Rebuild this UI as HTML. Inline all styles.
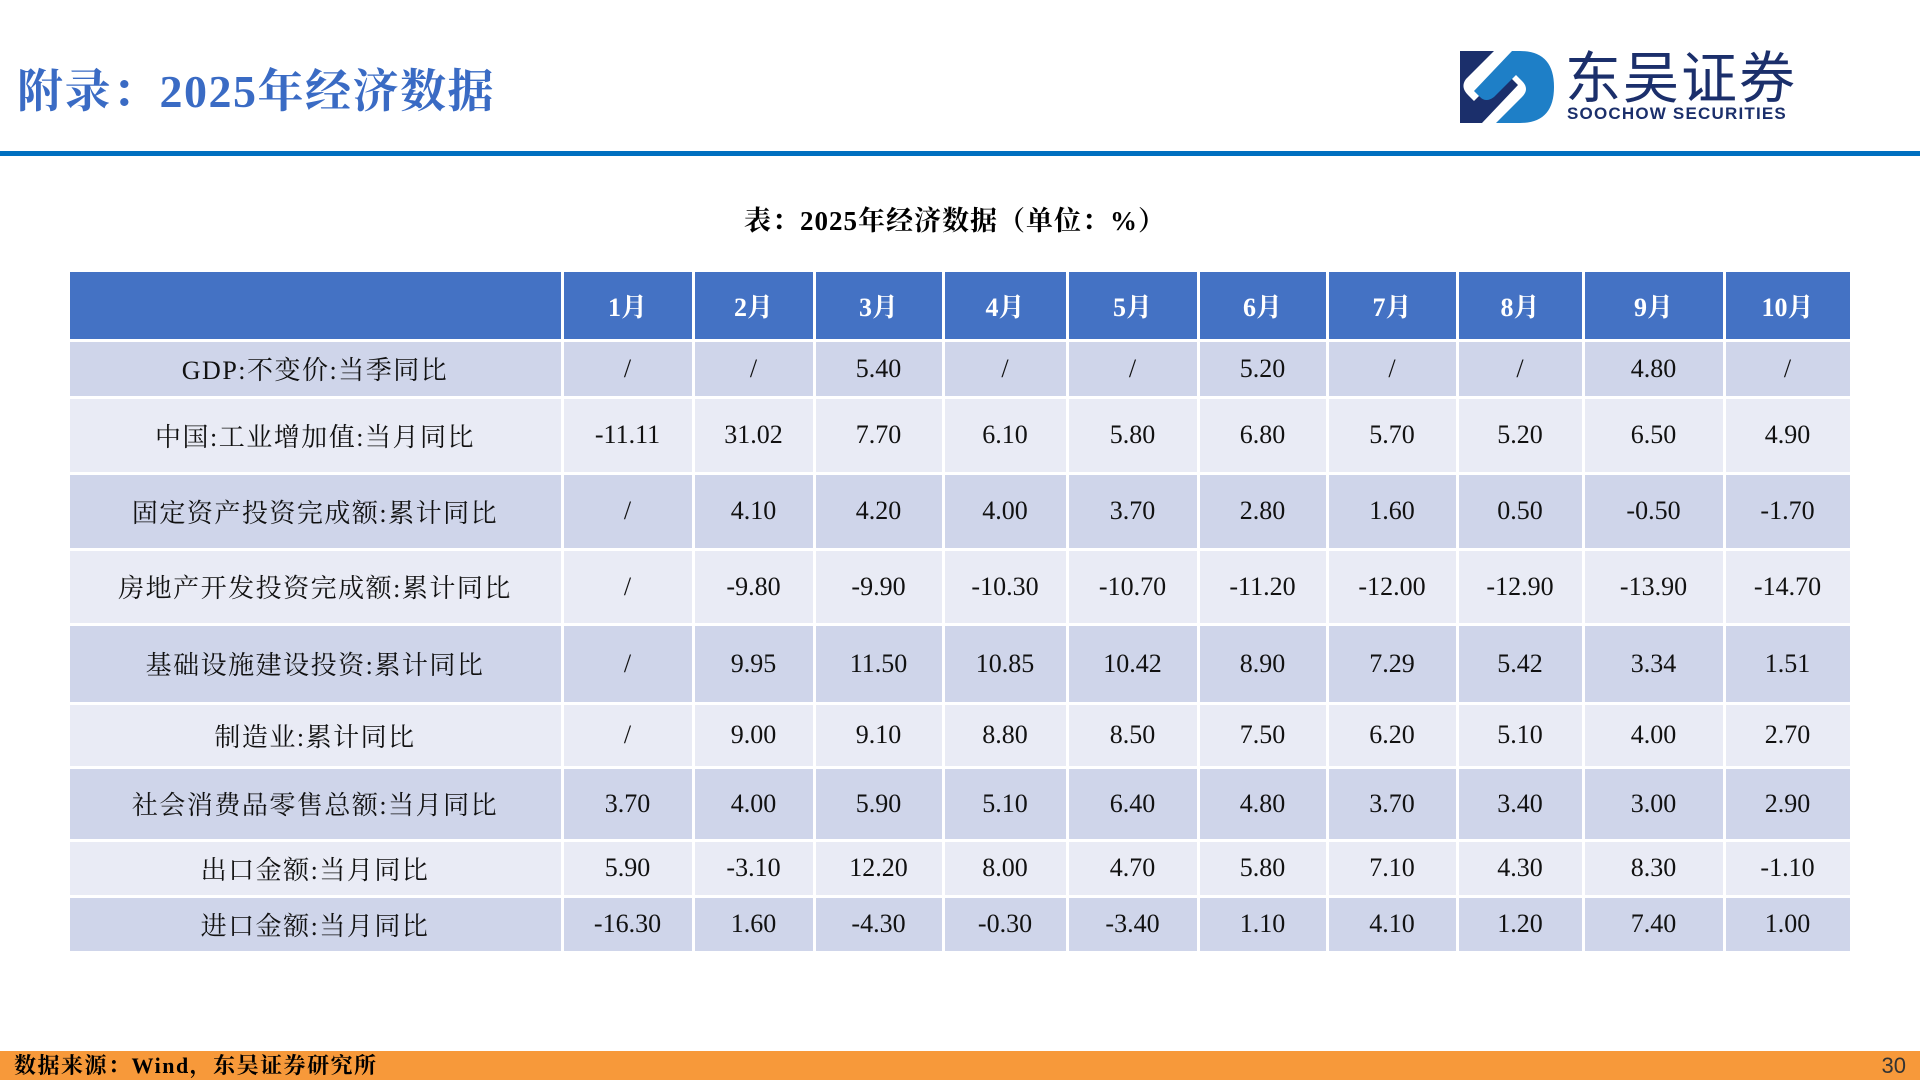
<!DOCTYPE html>
<html><head><meta charset="utf-8">
<style>
body{margin:0;width:1920px;height:1080px;position:relative;background:#fff;overflow:hidden;font-family:"Liberation Serif","Noto Serif CJK SC",serif;}
.abs{position:absolute;}
.cell{position:absolute;display:flex;align-items:center;justify-content:center;font-size:26px;color:#111;box-sizing:border-box;}
.lbl{letter-spacing:1.5px;}
</style></head><body>
<div class="abs" style="left:17px;top:64px;font-size:46px;font-weight:bold;color:#3A6BC4;line-height:56px;letter-spacing:1.5px;">附录：2025年经济数据</div>
<svg class="abs" style="left:1460px;top:51px" width="94" height="72" viewBox="0 0 94 72">
<rect x="0" y="0" width="94" height="72" fill="#fff"/>
<path d="M0 0 H34 L6 28 Q0 36 8 44 L14 50 L36 28 Q44 20 52 28 L58 34 L22 72 H0 Z" fill="#1B2F6B"/>
<path d="M60 0 Q94 0 94 36 Q94 72 60 72 H36 L62 46 Q70 38 62 30 L56 24 L34 46 Q26 52 20 46 L14 40 L52 0 Z" fill="#1E7FC7"/>
</svg>
<div class="abs" style="left:1565px;top:42px;font-size:56px;color:#1B2F6B;font-family:'Noto Sans CJK SC',sans-serif;line-height:66px;letter-spacing:2px;">东吴证券</div>
<div class="abs" style="left:1567px;top:104px;font-size:17px;font-weight:bold;color:#1B2F6B;font-family:'Liberation Sans',sans-serif;letter-spacing:1.2px;line-height:20px;">SOOCHOW SECURITIES</div>
<div class="abs" style="left:0;top:151px;width:1920px;height:5px;background:#0070C0;"></div>
<div class="abs" style="left:0;width:1910px;top:204px;text-align:center;font-size:27px;font-weight:bold;line-height:34px;letter-spacing:1px;">表：2025年经济数据（单位：%）</div>
<div id="tbl"></div>
<div class="abs" style="left:0;top:1051px;width:1920px;height:29px;background:#F7993A;"></div>
<div class="abs" style="left:14px;top:1051px;font-size:22px;font-weight:bold;line-height:29px;letter-spacing:1.5px;">数据来源：Wind，东吴证券研究所</div>
<div class="abs" style="right:14px;top:1051px;font-size:22px;line-height:29px;font-family:'Liberation Sans',sans-serif;color:#333;">30</div>
<script>
const months=["1月","2月","3月","4月","5月","6月","7月","8月","9月","10月"];
const indicators=["GDP:不变价:当季同比","中国:工业增加值:当月同比","固定资产投资完成额:累计同比","房地产开发投资完成额:累计同比","基础设施建设投资:累计同比","制造业:累计同比","社会消费品零售总额:当月同比","出口金额:当月同比","进口金额:当月同比"];
const values=[
["/","/","5.40","/","/","5.20","/","/","4.80","/"],
["-11.11","31.02","7.70","6.10","5.80","6.80","5.70","5.20","6.50","4.90"],
["/","4.10","4.20","4.00","3.70","2.80","1.60","0.50","-0.50","-1.70"],
["/","-9.80","-9.90","-10.30","-10.70","-11.20","-12.00","-12.90","-13.90","-14.70"],
["/","9.95","11.50","10.85","10.42","8.90","7.29","5.42","3.34","1.51"],
["/","9.00","9.10","8.80","8.50","7.50","6.20","5.10","4.00","2.70"],
["3.70","4.00","5.90","5.10","6.40","4.80","3.70","3.40","3.00","2.90"],
["5.90","-3.10","12.20","8.00","4.70","5.80","7.10","4.30","8.30","-1.10"],
["-16.30","1.60","-4.30","-0.30","-3.40","1.10","4.10","1.20","7.40","1.00"]];
const colX=[68,562,693,814,943,1067,1198,1327,1457,1583,1724,1851];
const rowY=[270,340,397,473,549,624,703,767,840,896,952];
const t=document.getElementById('tbl');
function cell(x0,x1,y0,y1,txt,bg,hdr){
  const d=document.createElement('div');d.className='cell';
  d.style.left=(x0+1.5)+'px';d.style.top=(y0+1.5)+'px';
  d.style.width=(x1-x0-3)+'px';d.style.height=(y1-y0-3)+'px';
  d.style.background=bg;
  if(hdr){d.style.color='#fff';d.style.fontWeight='bold';}
  d.textContent=txt;t.appendChild(d);return d;
}
let h=cell(colX[0],colX[1],rowY[0],rowY[1],"","#4472C4",true);


months.forEach((m,i)=>{
  const d=cell(colX[i+1],colX[i+2],rowY[0],rowY[1],m,"#4472C4",true);
  
  
});
indicators.forEach((name,r)=>{
  const bg=r%2===0?"#CFD5EA":"#E9EBF5";
  const a=cell(colX[0],colX[1],rowY[r+1],rowY[r+2],name,bg,false);
  a.classList.add('lbl');
  
  
  values[r].forEach((v,c)=>{
    const d=cell(colX[c+1],colX[c+2],rowY[r+1],rowY[r+2],v,bg,false);
    
    
  });
});
</script>
</body></html>
